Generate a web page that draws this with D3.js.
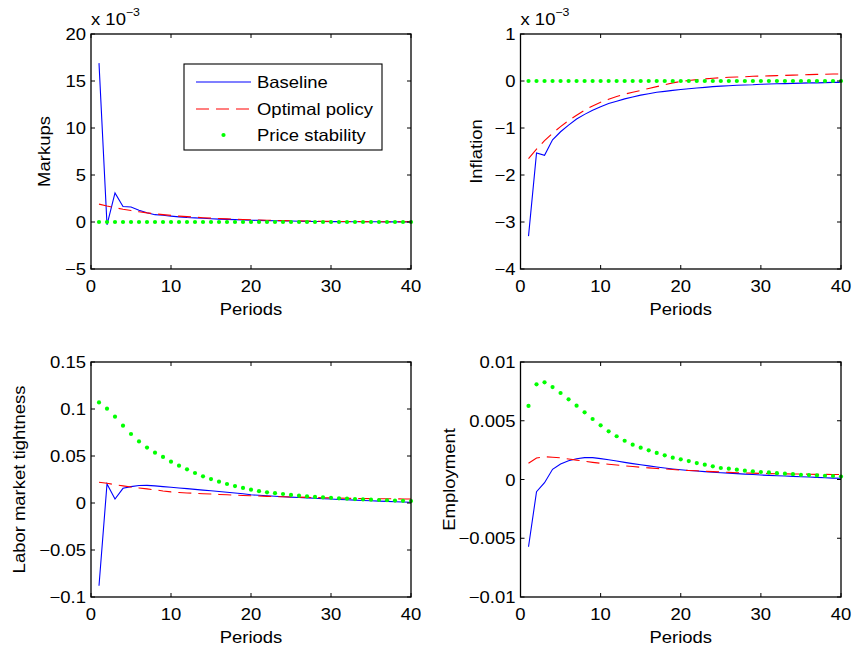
<!DOCTYPE html>
<html>
<head>
<meta charset="utf-8">
<script src="https://cdn.jsdelivr.net/npm/d3@7"></script>
<style>
  html, body { margin: 0; padding: 0; background: #fff; }
  svg { display: block; }
  text { font-family: "Liberation Sans", Arial, Helvetica, sans-serif; fill: #000; }
</style>
</head>
<body>
<svg id="chart" width="852" height="649"></svg>
<script>
// ---------------- DATA ----------------
const periods = d3.range(1, 41);
const xTicks = [0, 10, 20, 30, 40];
const seriesNames = ["Baseline", "Optimal policy", "Price stability"];

// Markups (units of 1e-3)
const markupsBaseline = [16.9, -0.3, 3.1, 1.65, 1.6, 1.25, 0.98, 0.78, 0.72, 0.62, 0.55, 0.48, 0.44, 0.40, 0.35, 0.31, 0.28, 0.25, 0.22, 0.19, 0.17, 0.15, 0.13, 0.11, 0.10, 0.08, 0.07, 0.06, 0.05, 0.04, 0.04, 0.03, 0.03, 0.02, 0.02, 0.02, 0.01, 0.01, 0.01, 0.01];
const markupsOptimal = [1.9, 1.7, 1.52, 1.36, 1.22, 1.09, 0.97, 0.87, 0.78, 0.70, 0.63, 0.57, 0.51, 0.46, 0.41, 0.37, 0.33, 0.30, 0.27, 0.24, 0.21, 0.19, 0.17, 0.15, 0.13, 0.12, 0.10, 0.09, 0.08, 0.07, 0.06, 0.05, 0.05, 0.04, 0.03, 0.03, 0.03, 0.02, 0.02, 0.02];
const markupsPrice = [0, 0, 0, 0, 0, 0, 0, 0, 0, 0, 0, 0, 0, 0, 0, 0, 0, 0, 0, 0, 0, 0, 0, 0, 0, 0, 0, 0, 0, 0, 0, 0, 0, 0, 0, 0, 0, 0, 0, 0];
const markupsTicks = [-5, 0, 5, 10, 15, 20];

// Inflation (units of 1e-3)
const inflationBaseline = [-3.3, -1.53, -1.58, -1.25, -1.08, -0.94, -0.81, -0.71, -0.62, -0.55, -0.48, -0.43, -0.38, -0.34, -0.30, -0.27, -0.24, -0.22, -0.20, -0.18, -0.165, -0.15, -0.135, -0.12, -0.11, -0.10, -0.09, -0.085, -0.08, -0.07, -0.065, -0.06, -0.055, -0.05, -0.045, -0.04, -0.04, -0.035, -0.03, -0.03];
const inflationOptimal = [-1.65, -1.45, -1.27, -1.11, -0.97, -0.84, -0.73, -0.62, -0.53, -0.45, -0.39, -0.33, -0.28, -0.24, -0.20, -0.16, -0.12, -0.08, -0.04, -0.01, 0.01, 0.03, 0.045, 0.06, 0.07, 0.08, 0.085, 0.09, 0.10, 0.105, 0.11, 0.115, 0.12, 0.125, 0.13, 0.135, 0.14, 0.145, 0.15, 0.15];
const inflationPrice = [0, 0, 0, 0, 0, 0, 0, 0, 0, 0, 0, 0, 0, 0, 0, 0, 0, 0, 0, 0, 0, 0, 0, 0, 0, 0, 0, 0, 0, 0, 0, 0, 0, 0, 0, 0, 0, 0, 0, 0];
const inflationTicks = [-4, -3, -2, -1, 0, 1];

// Labor market tightness
const laborBaseline = [-0.088, 0.0202, 0.0043, 0.0156, 0.0174, 0.0186, 0.0188, 0.0182, 0.0174, 0.0167, 0.0160, 0.0153, 0.0145, 0.0137, 0.0130, 0.0122, 0.0114, 0.0106, 0.0098, 0.0088, 0.0082, 0.0077, 0.0072, 0.0067, 0.0062, 0.0058, 0.0054, 0.0050, 0.0046, 0.0042, 0.0038, 0.0034, 0.0031, 0.0027, 0.0024, 0.0020, 0.0017, 0.0014, 0.0011, 0.0008];
const laborOptimal = [0.022, 0.021, 0.0195, 0.0182, 0.0170, 0.0160, 0.0150, 0.0140, 0.0128, 0.0118, 0.0112, 0.0107, 0.0103, 0.0099, 0.0095, 0.0091, 0.0087, 0.0083, 0.0080, 0.0077, 0.0074, 0.0071, 0.0068, 0.0066, 0.0064, 0.0062, 0.0060, 0.0058, 0.0056, 0.0054, 0.0052, 0.0050, 0.0049, 0.0048, 0.0047, 0.0046, 0.0045, 0.0044, 0.0043, 0.0043];
const laborPrice = [0.107, 0.1003, 0.0918, 0.0823, 0.0734, 0.0655, 0.059, 0.0535, 0.049, 0.044, 0.0397, 0.0358, 0.0319, 0.0284, 0.0255, 0.0227, 0.0202, 0.018, 0.016, 0.0142, 0.0126, 0.0114, 0.0105, 0.0096, 0.0086, 0.0078, 0.0071, 0.0065, 0.006, 0.0055, 0.005, 0.0046, 0.0042, 0.0038, 0.0035, 0.0032, 0.0029, 0.0026, 0.0023, 0.002];
const laborTicks = [-0.1, -0.05, 0, 0.05, 0.1, 0.15];
const laborTickLabels = ["\u22120.1", "\u22120.05", "0", "0.05", "0.1", "0.15"];

// Employment
const employmentBaseline = [-0.00572, -0.00104, -0.00027, 0.00087, 0.00132, 0.0016, 0.00177, 0.00186, 0.00186, 0.00178, 0.00168, 0.00157, 0.00146, 0.00135, 0.00125, 0.00116, 0.00107, 0.00098, 0.0009, 0.00083, 0.00077, 0.00072, 0.00067, 0.00062, 0.00058, 0.00054, 0.0005, 0.00046, 0.00042, 0.00038, 0.00035, 0.00032, 0.0003, 0.00027, 0.00024, 0.00021, 0.00018, 0.00015, 0.00012, 0.0001];
const employmentOptimal = [0.00138, 0.00183, 0.00194, 0.0019, 0.00184, 0.00175, 0.00165, 0.00155, 0.00146, 0.00138, 0.0013, 0.00123, 0.00116, 0.0011, 0.00104, 0.00099, 0.00094, 0.0009, 0.00085, 0.0008, 0.00077, 0.00074, 0.0007, 0.00067, 0.00064, 0.00061, 0.00058, 0.00056, 0.00054, 0.00052, 0.0005, 0.00049, 0.00048, 0.00047, 0.00046, 0.00045, 0.00044, 0.00044, 0.00043, 0.00043];
const employmentPrice = [0.00626, 0.0081, 0.00827, 0.00787, 0.00736, 0.00682, 0.00628, 0.00572, 0.00515, 0.00461, 0.0041, 0.00368, 0.0033, 0.00296, 0.00271, 0.00248, 0.00226, 0.00206, 0.00186, 0.00172, 0.00157, 0.0014, 0.00126, 0.00112, 0.00098, 0.00092, 0.00084, 0.00075, 0.0007, 0.00064, 0.0006, 0.00054, 0.0005, 0.00045, 0.0004, 0.00038, 0.00035, 0.00032, 0.0003, 0.00025];
const employmentTicks = [-0.01, -0.005, 0, 0.005, 0.01];
const employmentTickLabels = ["\u22120.01", "\u22120.005", "0", "0.005", "0.01"];

// ---------------- STYLE / LAYOUT ----------------
const COLORS = { base: "#0000ff", opt: "#ff0000", price: "#00ff00" };
const FONT = 16.5;
const WIDEN = 1.12;   // reference glyphs are wider than Liberation Sans
const svg = d3.select("#chart");
const fmtMinus = v => (v < 0 ? "\u2212" + Math.abs(v) : String(v));

function addText(g, x, y, str, opts = {}) {
  const rot = opts.rotate ? ` rotate(${opts.rotate})` : "";
  const t = g.append("text")
    .attr("transform", `translate(${x},${y})${rot} scale(${WIDEN},1)`)
    .attr("text-anchor", opts.anchor || "start")
    .attr("font-size", opts.size || FONT);
  if (str !== null) t.text(str);
  return t;
}

const panels = [
  { left: 91, right: 411, top: 34, bottom: 269, ylab: "Markups", ylabOff: 41.5,
    yTicks: markupsTicks, yLabels: markupsTicks.map(fmtMinus), exp: true,
    base: markupsBaseline, opt: markupsOptimal, price: markupsPrice, legend: true },
  { left: 520.5, right: 841, top: 34, bottom: 269, ylab: "Inflation", ylabOff: 38.5,
    yTicks: inflationTicks, yLabels: inflationTicks.map(fmtMinus), exp: true,
    base: inflationBaseline, opt: inflationOptimal, price: inflationPrice },
  { left: 91, right: 411, top: 362, bottom: 597, ylab: "Labor market tightness", ylabOff: 66,
    yTicks: laborTicks, yLabels: laborTickLabels,
    base: laborBaseline, opt: laborOptimal, price: laborPrice },
  { left: 520.5, right: 841, top: 362, bottom: 597, ylab: "Employment", ylabOff: 65.5,
    yTicks: employmentTicks, yLabels: employmentTickLabels,
    base: employmentBaseline, opt: employmentOptimal, price: employmentPrice }
];

panels.forEach(p => {
  const x = d3.scaleLinear().domain([0, 40]).range([p.left, p.right]);
  const y = d3.scaleLinear().domain([p.yTicks[0], p.yTicks[p.yTicks.length - 1]]).range([p.bottom, p.top]);
  const g = svg.append("g");
  const tl = 4;

  // data
  const line = d3.line().x((d, i) => x(periods[i])).y(d => y(d));
  g.append("path").datum(p.base).attr("d", line)
    .attr("fill", "none").attr("stroke", COLORS.base).attr("stroke-width", 1.1);
  g.append("path").datum(p.opt).attr("d", line)
    .attr("fill", "none").attr("stroke", COLORS.opt).attr("stroke-width", 1.1)
    .attr("stroke-dasharray", "13,7");
  g.selectAll("circle.price").data(p.price).enter().append("circle")
    .attr("class", "price")
    .attr("cx", (d, i) => x(periods[i])).attr("cy", d => y(d))
    .attr("r", 2.1).attr("fill", COLORS.price);

  // axes frame
  g.append("rect").attr("x", p.left).attr("y", p.top)
    .attr("width", p.right - p.left).attr("height", p.bottom - p.top)
    .attr("fill", "none").attr("stroke", "#000").attr("stroke-width", 1.3);

  // x ticks (inward, top & bottom)
  xTicks.forEach(t => {
    const xx = x(t);
    g.append("line").attr("x1", xx).attr("x2", xx).attr("y1", p.bottom).attr("y2", p.bottom - tl)
      .attr("stroke", "#000");
    g.append("line").attr("x1", xx).attr("x2", xx).attr("y1", p.top).attr("y2", p.top + tl)
      .attr("stroke", "#000");
    addText(g, xx, p.bottom + 23, fmtMinus(t), { anchor: "middle" });
  });
  // y ticks (inward, left & right)
  p.yTicks.forEach((t, i) => {
    const yy = y(t);
    g.append("line").attr("x1", p.left).attr("x2", p.left + tl).attr("y1", yy).attr("y2", yy)
      .attr("stroke", "#000");
    g.append("line").attr("x1", p.right).attr("x2", p.right - tl).attr("y1", yy).attr("y2", yy)
      .attr("stroke", "#000");
    addText(g, p.left - 5, yy + 6, p.yLabels[i], { anchor: "end" });
  });

  // x label
  addText(g, (p.left + p.right) / 2, p.bottom + 46, "Periods", { anchor: "middle" });
  // y label
  addText(g, p.left - p.ylabOff, (p.top + p.bottom) / 2, p.ylab, { anchor: "middle", rotate: -90 });

  // exponent label
  if (p.exp) {
    const t = addText(g, p.left, p.top - 9, null);
    t.append("tspan").text("x 10");
    t.append("tspan").attr("dy", -9).attr("font-size", 11).text("\u22123");
  }

  // legend
  if (p.legend) {
    const lg = g.append("g");
    lg.append("rect").attr("x", 184).attr("y", 64).attr("width", 198).attr("height", 86)
      .attr("fill", "#fff").attr("stroke", "#000").attr("stroke-width", 1.1);
    const rows = [82, 109, 135];
    seriesNames.forEach((name, i) => {
      const ry = rows[i];
      if (i === 0) {
        lg.append("line").attr("x1", 196).attr("x2", 251).attr("y1", ry).attr("y2", ry)
          .attr("stroke", COLORS.base).attr("stroke-width", 1.1);
      } else if (i === 1) {
        lg.append("line").attr("x1", 196).attr("x2", 251).attr("y1", ry).attr("y2", ry)
          .attr("stroke", COLORS.opt).attr("stroke-width", 1.1).attr("stroke-dasharray", "13,7");
      } else {
        lg.append("circle").attr("cx", 223.5).attr("cy", ry).attr("r", 2.1).attr("fill", COLORS.price);
      }
      addText(lg, 257, ry + 6, name);
    });
  }
});
</script>
</body>
</html>
